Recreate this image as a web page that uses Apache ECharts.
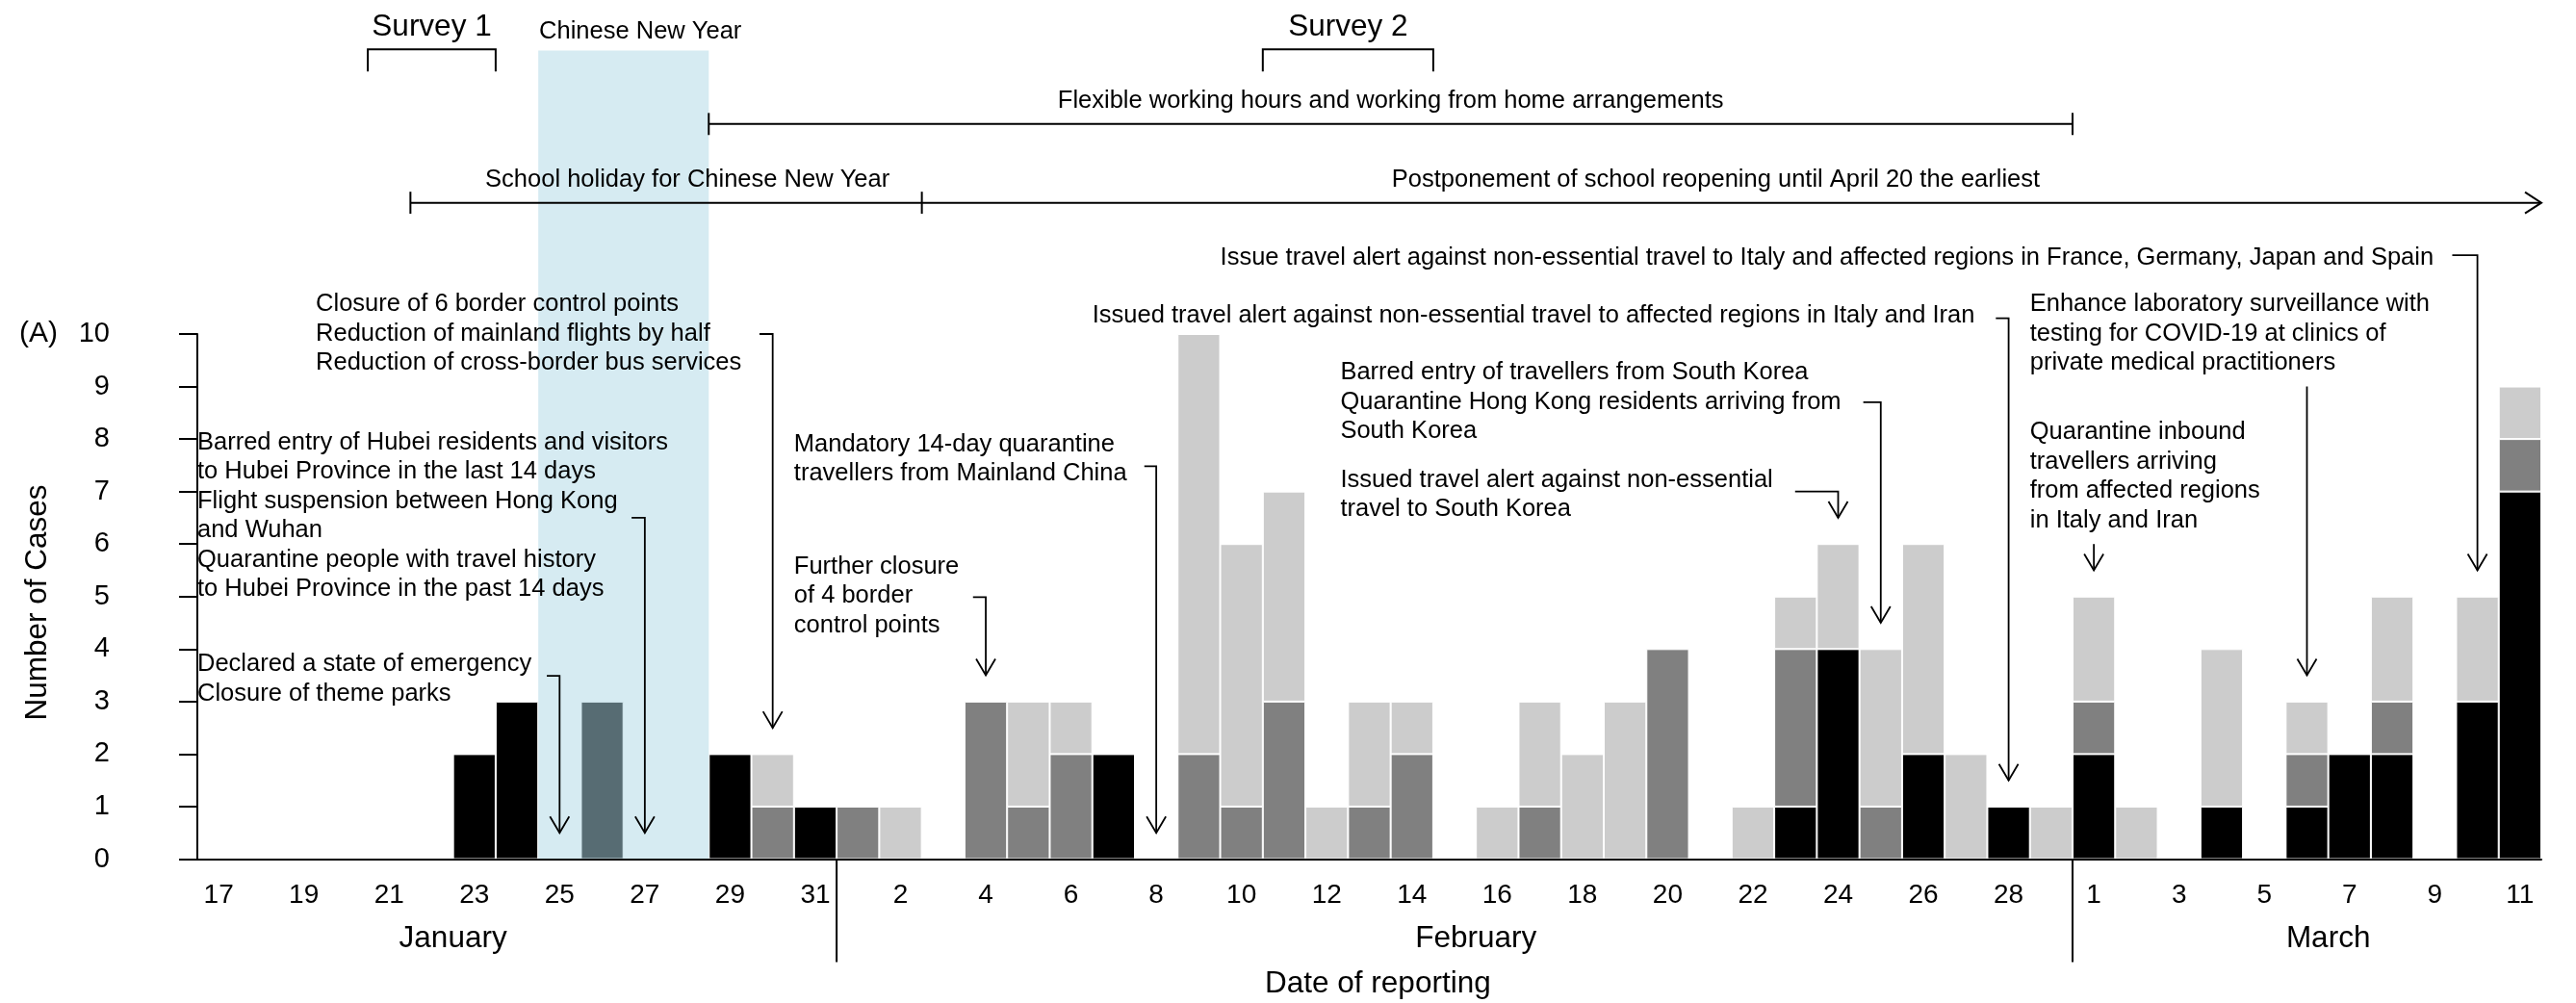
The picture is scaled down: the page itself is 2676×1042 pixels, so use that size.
<!DOCTYPE html>
<html>
<head>
<meta charset="utf-8">
<script src="https://cdn.jsdelivr.net/npm/echarts@6/dist/echarts.min.js"></script>
<style>
  html, body { margin: 0; background: #fff; }
  #chart { width: 2676px; height: 1042px; }
</style>
</head>
<body>
<div id="chart"></div>
<script>
const days = [
  'Jan 17', 'Jan 18', 'Jan 19', 'Jan 20', 'Jan 21', 'Jan 22', 'Jan 23', 'Jan 24', 'Jan 25', 'Jan 26',
  'Jan 27', 'Jan 28', 'Jan 29', 'Jan 30', 'Jan 31',
  'Feb 1', 'Feb 2', 'Feb 3', 'Feb 4', 'Feb 5', 'Feb 6', 'Feb 7', 'Feb 8', 'Feb 9', 'Feb 10',
  'Feb 11', 'Feb 12', 'Feb 13', 'Feb 14', 'Feb 15', 'Feb 16', 'Feb 17', 'Feb 18', 'Feb 19', 'Feb 20',
  'Feb 21', 'Feb 22', 'Feb 23', 'Feb 24', 'Feb 25', 'Feb 26', 'Feb 27', 'Feb 28', 'Feb 29',
  'Mar 1', 'Mar 2', 'Mar 3', 'Mar 4', 'Mar 5', 'Mar 6', 'Mar 7', 'Mar 8', 'Mar 9', 'Mar 10', 'Mar 11',
]

// cases per day, stacked bottom to top: black, dark grey, light grey
const blackCases = [
  0, 0, 0, 0, 0, 0, 2, 3, 0, 3, 0, 0, 2, 0, 1,
  0, 0, 0, 0, 0, 0, 2, 0, 0, 0, 0, 0, 0, 0, 0, 0, 0, 0, 0, 0, 0, 0, 1, 4, 0, 2, 0, 1, 0,
  2, 0, 0, 1, 0, 1, 2, 2, 0, 3, 7,
]
const greyCases = [
  0, 0, 0, 0, 0, 0, 0, 0, 0, 0, 0, 0, 0, 1, 0,
  1, 0, 0, 3, 1, 2, 0, 0, 2, 1, 3, 0, 1, 2, 0, 0, 1, 0, 0, 4, 0, 0, 3, 0, 1, 0, 0, 0, 0,
  1, 0, 0, 0, 0, 1, 0, 1, 0, 0, 1,
]
const lightCases = [
  0, 0, 0, 0, 0, 0, 0, 0, 0, 0, 0, 0, 0, 1, 0,
  0, 1, 0, 0, 2, 1, 0, 0, 8, 5, 4, 1, 2, 1, 0, 1, 2, 2, 3, 0, 0, 1, 1, 2, 3, 4, 2, 0, 1,
  2, 1, 0, 3, 0, 1, 0, 2, 0, 2, 1,
]

// annotations, x in days from 17 Jan (day i spans i..i+1), y in cases
const notes = [
  { x: 2.78, y: 10.56, lines: ['Closure of 6 border control points', 'Reduction of mainland flights by half', 'Reduction of cross-border bus services'] },
  { x: 0, y: 7.93, lines: ['Barred entry of Hubei residents and visitors', 'to Hubei Province in the last 14 days', 'Flight suspension between Hong Kong', 'and Wuhan', 'Quarantine people with travel history', 'to Hubei Province in the past 14 days'] },
  { x: 0, y: 3.71, lines: ['Declared a state of emergency', 'Closure of theme parks'] },
  { x: 14, y: 7.9, lines: ['Mandatory 14-day quarantine', 'travellers from Mainland China'] },
  { x: 14, y: 5.57, lines: ['Further closure', 'of 4 border', 'control points'] },
  { x: 21, y: 10.35, lines: ['Issued travel alert against non-essential travel to affected regions in Italy and Iran'] },
  { x: 26.82, y: 9.26, lines: ['Barred entry of travellers from South Korea', 'Quarantine Hong Kong residents arriving from', 'South Korea'] },
  { x: 26.82, y: 7.22, lines: ['Issued travel alert against non-essential', 'travel to South Korea'] },
  { x: 43, y: 10.56, lines: ['Enhance laboratory surveillance with', 'testing for COVID-19 at clinics of', 'private medical practitioners'] },
  { x: 43, y: 8.13, lines: ['Quarantine inbound', 'travellers arriving', 'from affected regions', 'in Italy and Iran'] },
  { x: 24, y: 11.45, lines: ['Issue travel alert against non-essential travel to Italy and affected regions in France, Germany, Japan and Spain'] },
]
const arrows = [
  { from: 13.19, at: 10.0, x: 13.5, tip: 2.5 },
  { from: 10.19, at: 6.5, x: 10.5, tip: 0.5 },
  { from: 8.2, at: 3.49, x: 8.5, tip: 0.5 },
  { from: 22.22, at: 7.48, x: 22.5, tip: 0.5 },
  { from: 18.2, at: 4.99, x: 18.5, tip: 3.5 },
  { from: 42.2, at: 10.3, x: 42.5, tip: 1.5 },
  { from: 39.09, at: 8.7, x: 39.5, tip: 4.5 },
  { from: 37.49, at: 7.0, x: 38.5, tip: 6.5 },
  { from: null, at: 9.0, x: 49.5, tip: 3.5 },
  { from: null, at: 6.0, x: 44.5, tip: 5.5 },
  { from: 52.91, at: 11.5, x: 53.5, tip: 5.5 },
]
const months = [{ x: 6, name: 'January' }, { x: 30, name: 'February' }, { x: 50, name: 'March' }]
const monthBreaks = [15, 44]
const surveys = [{ from: 4, to: 7, name: 'Survey 1' }, { from: 25, to: 29, name: 'Survey 2' }]
const newYear = { from: 8, to: 12 }

const FONT = "'Liberation Sans', Arial, sans-serif"
const chart = echarts.init(document.getElementById('chart'))

const noZero = (arr) => arr.map((v) => (v === 0 ? null : v))
const barSeries = (name, data, color) => ({
  name,
  type: 'bar',
  stack: 'cases',
  data: noZero(data),
  barCategoryGap: 0,
  itemStyle: { color, borderColor: '#fff', borderWidth: 1 },
})

chart.setOption({
  animation: false,
  grid: { left: 205, right: 36, top: 347, bottom: 149.5, outerBoundsMode: 'none' },
  xAxis: [
    {
      type: 'category',
      data: days,
      z: 4,
      axisLine: { lineStyle: { color: '#000', width: 2 } },
      axisTick: { interval: 0, length: 18, lineStyle: { color: '#000', width: 2 } },
      axisLabel: {
        interval: 1,
        margin: 24,
        fontSize: 28,
        fontFamily: FONT,
        color: '#000',
        formatter: (v) => v.split(' ')[1],
      },
    },
    { type: 'value', min: 0, max: 55, show: false },
  ],
  yAxis: {
    type: 'value',
    min: 0,
    max: 10,
    interval: 1,
    offset: 52,
    axisLine: { show: true, lineStyle: { color: '#000', width: 2 } },
    axisTick: { show: true, length: 19, lineStyle: { color: '#000', width: 2 } },
    axisLabel: { margin: 39, fontSize: 29, fontFamily: FONT, color: '#000' },
    splitLine: { show: false },
  },
  series: [
    barSeries('Black', blackCases, '#000000'),
    barSeries('Grey', greyCases, '#808080'),
    barSeries('Light', lightCases, '#cccccc'),
  ],
})

const P = (x, y) => chart.convertToPixel({ xAxisIndex: 1, yAxisIndex: 0 }, [x, y])
const line = (points, width) => ({
  type: 'polyline',
  z: 10,
  shape: { points },
  style: { stroke: '#000', lineWidth: width || 2, fill: null },
})
const text = (str, x, y, size, align, valign) => ({
  type: 'text',
  z: 10,
  style: {
    text: str, x, y,
    font: size + 'px ' + FONT,
    fill: '#000',
    align: align || 'left', textAlign: align || 'left',
    verticalAlign: valign || 'middle', textVerticalAlign: valign || 'middle',
    lineHeight: 30.5,
  },
})

const graphics = []
const base = P(0, 0)[1]

// Chinese New Year band
const bandA = P(newYear.from, 15.4)
const bandB = P(newYear.to, 0)
graphics.push({
  type: 'rect',
  z: 3,
  shape: { x: bandA[0], y: bandA[1], width: bandB[0] - bandA[0], height: bandB[1] - bandA[1] },
  style: { fill: 'rgba(173,216,230,0.5)' },
})
graphics.push(text('Chinese New Year', P(8.02, 0)[0], P(0, 15.76)[1], 25.5))

// survey brackets
surveys.forEach((s) => {
  graphics.push(line([P(s.from, 15.0), P(s.from, 15.42), P(s.to, 15.42), P(s.to, 15.0)]))
  graphics.push(text(s.name, P((s.from + s.to) / 2, 0)[0], P(0, 15.84)[1], 31.5, 'center'))
})

// working-from-home span
graphics.push(line([P(12, 14.0), P(44, 14.0)]))
graphics.push(line([P(12, 14.21), P(12, 13.79)]))
graphics.push(line([P(44, 14.21), P(44, 13.79)]))
graphics.push(text('Flexible working hours and working from home arrangements', P(28, 0)[0], P(0, 14.44)[1], 25.5, 'center'))

// school holiday and postponement
graphics.push(line([P(5, 12.5), P(55, 12.5)]))
graphics.push(line([P(5, 12.71), P(5, 12.29)]))
graphics.push(line([P(17, 12.71), P(17, 12.29)]))
const headR = P(55, 12.5)
graphics.push(line([[headR[0] - 17, headR[1] - 11], headR, [headR[0] - 17, headR[1] + 11]]))
graphics.push(text('School holiday for Chinese New Year', P(11.5, 0)[0], P(0, 12.94)[1], 25.5, 'center'))
graphics.push(text('Postponement of school reopening until April 20 the earliest', P(35.63, 0)[0], P(0, 12.94)[1], 25.5, 'center'))

// annotation texts
notes.forEach((n) => {
  const p = P(n.x, n.y)
  graphics.push(text(n.lines.join('\n'), p[0], p[1] - 15.25, 25.5, 'left', 'top'))
})

// annotation arrows
arrows.forEach((a) => {
  const pts = a.from === null ? [P(a.x, a.at), P(a.x, a.tip)] : [P(a.from, a.at), P(a.x, a.at), P(a.x, a.tip)]
  graphics.push(line(pts, 1.8))
  const t = P(a.x, a.tip)
  graphics.push(line([[t[0] - 10, t[1] - 17], t, [t[0] + 10, t[1] - 17]], 1.8))
})

// month labels and separators
months.forEach((m) => {
  graphics.push(text(m.name, P(m.x, 0)[0], base + 82.5, 31.5, 'center'))
})
monthBreaks.forEach((b) => {
  const x = P(b, 0)[0]
  graphics.push(line([[x, base], [x, base + 107]]))
})

// axis titles and panel label
graphics.push(text('Date of reporting', P(27.7, 0)[0], base + 129.5, 31.5, 'center'))
graphics.push({
  type: 'text',
  z: 10,
  x: 39,
  y: 626,
  rotation: Math.PI / 2,
  style: {
    text: 'Number of Cases', x: 0, y: 0,
    font: '31.5px ' + FONT, fill: '#000',
    align: 'center', textAlign: 'center', verticalAlign: 'middle', textVerticalAlign: 'middle',
  },
})
graphics.push(text('(A)', 20, P(0, 10)[1], 30))

chart.setOption({ graphic: graphics })
window.addEventListener('resize', () => chart.resize())
</script>
</body>
</html>
